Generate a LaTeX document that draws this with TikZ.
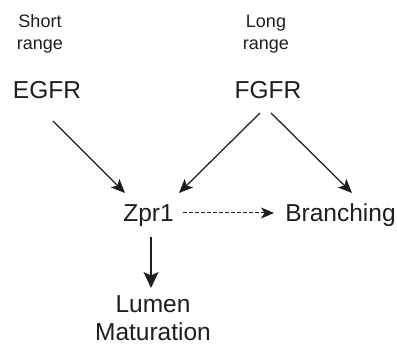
\documentclass[tikz,border=0pt]{standalone}
\usepackage{fontspec}
\setmainfont{Liberation Sans}
\usetikzlibrary{arrows.meta,calc}
\definecolor{ink}{HTML}{1E1E1E}
\begin{document}
\begin{tikzpicture}[x=1pt,y=1pt,
  small/.style={font=\fontsize{18}{22}\selectfont, text=ink, inner sep=0pt, text width=60pt, align=center, anchor=base},
  big/.style={font=\fontsize{24.5}{28}\selectfont, text=ink, inner sep=0pt, anchor=base},
  arr/.style={draw=ink, line width=1.25pt, -{Stealth[length=14pt,width=12pt,inset=3.5pt]}},
  darr/.style={draw=ink, line width=1pt, dash pattern=on 3.5pt off 2.5pt, -{Stealth[length=13pt,width=11pt,inset=3.5pt]}}
]
\useasboundingbox (0,0) rectangle (397,347);
\node[small] (short) at (40,319) {Short\\range};
\node[small] (long) at (266,319) {Long\\range};
\node[big] (egfr) at (47,248) {EGFR};
\node[big] (fgfr) at (268,248) {FGFR};
\node[big] (zpr) at (148.5,125) {Zpr1};
\node[big] (branch) at (340.5,125) {Branching};
\node[big, text width=130pt, align=center] (lumen) at (153,34) {Lumen\\Maturation};
\draw[arr] ($(egfr.base)+(6,-22)$) -- ($(zpr.base)+(-23.5,29)$);
\draw[arr] ($(fgfr.base)+(-8,-14)$) -- ($(zpr.base)+(30.5,29)$);
\draw[arr] ($(fgfr.base)+(3,-14)$) -- ($(branch.base)+(11.5,29)$);
\draw[arr, -{Stealth[length=16pt,width=15pt,inset=3.5pt]}] ($(zpr.base)+(2.5,-15)$) -- ($(lumen.base)+(-2,25)$);
\draw[darr] ($(zpr.base)+(34.5,9)$) -- ($(branch.base)+(-66.5,9)$);
\end{tikzpicture}
\end{document}
